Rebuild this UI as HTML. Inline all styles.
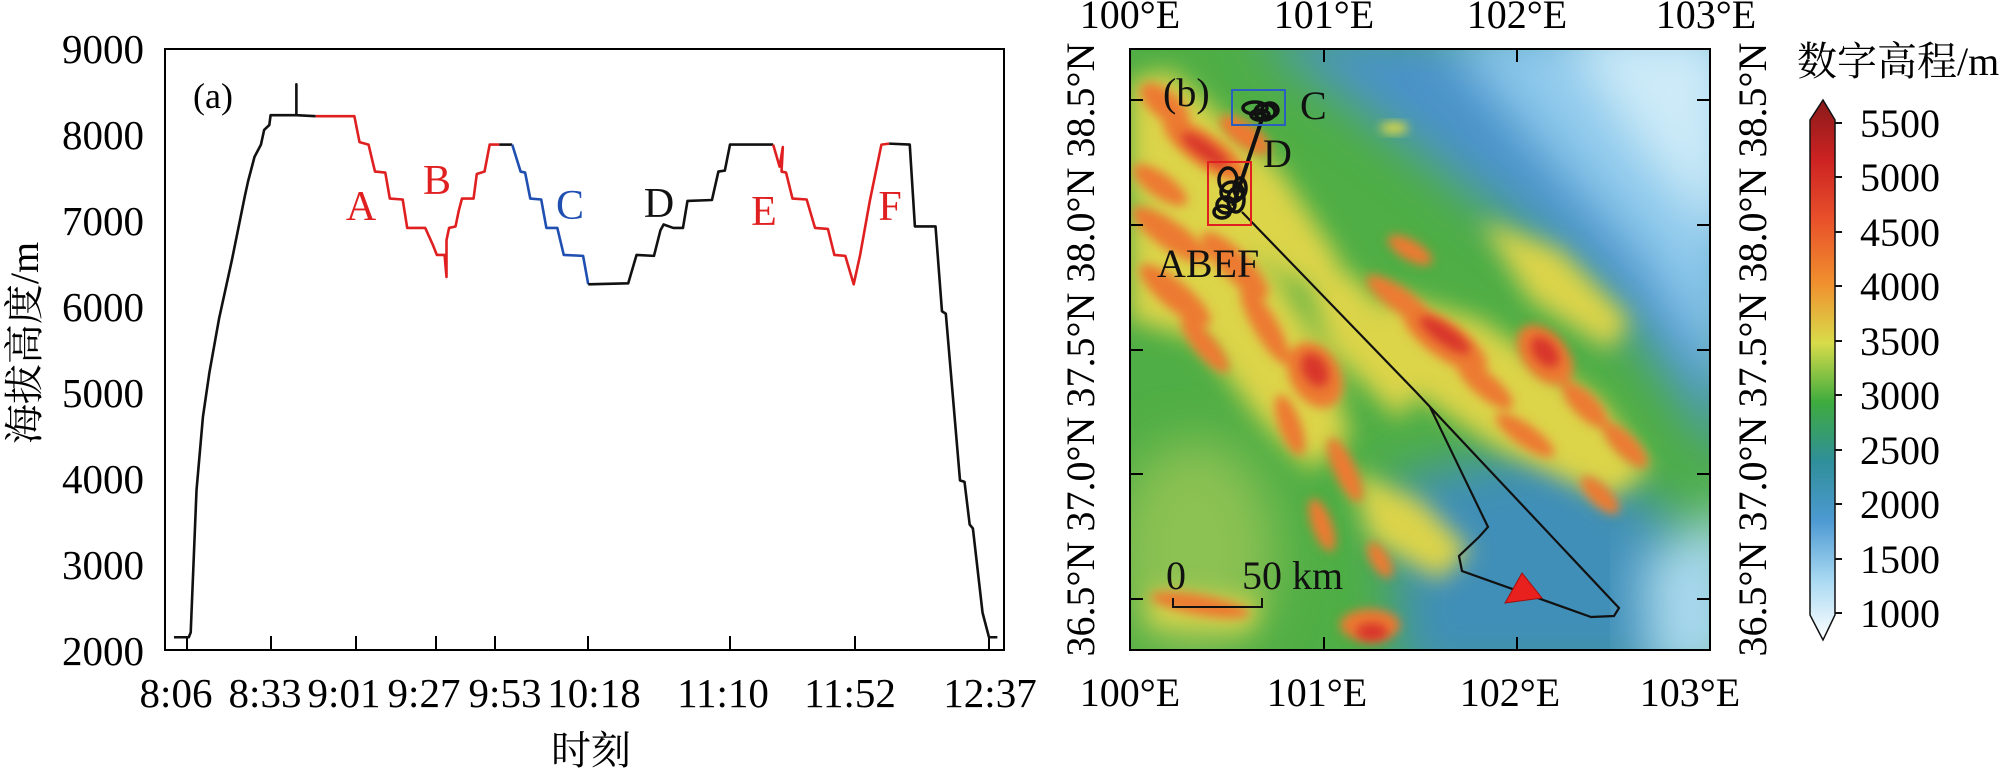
<!DOCTYPE html>
<html><head><meta charset="utf-8"><style>
html,body{margin:0;padding:0;background:#fff;}
svg{display:block;}
text{font-family:"Liberation Serif","Noto Serif CJK SC",serif;}
</style></head><body>
<svg width="2000" height="768" viewBox="0 0 2000 768" xmlns="http://www.w3.org/2000/svg">
<defs>
<filter id="b4" x="-30%" y="-30%" width="160%" height="160%"><feGaussianBlur stdDeviation="5"/></filter>
<filter id="b14" x="-30%" y="-30%" width="160%" height="160%"><feGaussianBlur stdDeviation="12"/></filter>
<filter id="b25" x="-30%" y="-30%" width="160%" height="160%"><feGaussianBlur stdDeviation="25"/></filter>
<clipPath id="mc"><rect x="1130" y="49" width="580" height="601"/></clipPath>
<linearGradient id="cb" x1="0" y1="1" x2="0" y2="0">
<stop offset="0" stop-color="#ffffff"/>
<stop offset="0.11" stop-color="#a9d9f2"/>
<stop offset="0.22" stop-color="#4d9ad2"/>
<stop offset="0.33" stop-color="#2f8f9a"/>
<stop offset="0.44" stop-color="#3eab3e"/>
<stop offset="0.55" stop-color="#d8dc4a"/>
<stop offset="0.66" stop-color="#f0902e"/>
<stop offset="0.78" stop-color="#e8502a"/>
<stop offset="0.89" stop-color="#cc2222"/>
<stop offset="1" stop-color="#8a1a1a"/>
</linearGradient>
</defs>

<!-- LEFT PANEL -->
<rect x="165" y="49" width="839" height="601" fill="none" stroke="#000" stroke-width="2"/>
<g font-size="41" text-anchor="end">
<text x="144" y="63">9000</text>
<text x="144" y="149">8000</text>
<text x="144" y="235">7000</text>
<text x="144" y="321">6000</text>
<text x="144" y="407">5000</text>
<text x="144" y="493">4000</text>
<text x="144" y="579">3000</text>
<text x="144" y="665">2000</text>
</g>
<g stroke="#000" stroke-width="2">
<line x1="187" y1="650" x2="187" y2="636"/><line x1="271" y1="650" x2="271" y2="636"/>
<line x1="356" y1="650" x2="356" y2="636"/><line x1="436" y1="650" x2="436" y2="636"/>
<line x1="495" y1="650" x2="495" y2="636"/><line x1="588" y1="650" x2="588" y2="636"/>
<line x1="730" y1="650" x2="730" y2="636"/><line x1="855" y1="650" x2="855" y2="636"/>
<line x1="989" y1="650" x2="989" y2="636"/>
</g>
<g font-size="41" text-anchor="middle">
<text x="176" y="707">8:06</text><text x="265" y="707">8:33</text>
<text x="344" y="707">9:01</text><text x="424" y="707">9:27</text>
<text x="505" y="707">9:53</text><text x="594" y="707">10:18</text>
<text x="723" y="707">11:10</text><text x="850" y="707">11:52</text>
<text x="990" y="707">12:37</text>
<text x="591" y="764" font-size="40">时刻</text>
</g>
<text transform="translate(38,343) rotate(-90)" font-size="40" text-anchor="middle">海拔高度/m</text>
<text x="193" y="108" font-size="36">(a)</text>

<g transform="scale(0.6443,0.4902)" fill="none" stroke-width="2.6" stroke-linejoin="round">
<polyline vector-effect="non-scaling-stroke" stroke="#111" points="270,1300 293,1300 296,1290 305,1000 315,850 325,760 340,650 360,530 380,400 385,370 395,320 405,295 410,265 418,255 420,235 460,235 460,172 460,235 490,237"/>
<polyline vector-effect="non-scaling-stroke" stroke="#e02020" points="490,237 550,237 558,290 572,295 582,350 598,352 605,405 625,407 632,465 660,465 672,500 678,520 690,520 693,565 693,490 697,465 707,462 712,430 717,405 735,405 740,355 752,350 760,295 775,295"/>
<polyline vector-effect="non-scaling-stroke" stroke="#111" points="775,295 795,295"/>
<polyline vector-effect="non-scaling-stroke" stroke="#1f4fb0" points="795,295 808,350 815,352 823,405 840,407 848,465 865,465 875,520 905,522 913,580"/>
<polyline vector-effect="non-scaling-stroke" stroke="#111" points="913,580 975,578 988,520 1015,522 1025,470 1030,458 1045,465 1060,465 1067,410 1105,408 1115,350 1125,348 1133,295 1200,295"/>
<polyline vector-effect="non-scaling-stroke" stroke="#e02020" points="1200,295 1210,340 1215,300 1213,350 1220,352 1230,405 1252,407 1265,465 1285,467 1295,520 1312,522 1325,580 1335,520 1350,410 1368,295 1380,293"/>
<polyline vector-effect="non-scaling-stroke" stroke="#111" points="1380,293 1412,295 1420,462 1452,462 1462,635 1468,640 1490,980 1497,983 1505,1070 1510,1078 1525,1250 1535,1300 1548,1300"/>
</g>
<g font-size="42" text-anchor="middle">
<text x="361" y="220" fill="#e02020">A</text>
<text x="437" y="194" fill="#e02020">B</text>
<text x="570" y="219" fill="#1f4fb0">C</text>
<text x="659" y="217" fill="#111">D</text>
<text x="764" y="225" fill="#e02020">E</text>
<text x="890" y="220" fill="#e02020">F</text>
</g>

<!-- MAP -->
<g clip-path="url(#mc)">
<rect x="1130" y="49" width="580" height="601" fill="#4fae45"/>
<polygon points="1250,30 1730,30 1730,470 1640,340 1520,230 1400,140" fill="#4a93c9" filter="url(#b25)"/>
<polygon points="1440,30 1730,30 1730,400 1640,260 1540,150" fill="#8ec9ec" filter="url(#b25)"/>
<polygon points="1560,30 1730,30 1730,250 1640,150" fill="#cdebf8" filter="url(#b25)"/>
<polygon points="1390,480 1560,440 1680,520 1700,680 1400,680" fill="#3f8fb8" filter="url(#b25)"/>
<polygon points="1640,560 1740,500 1740,680 1650,680" fill="#a9d8f0" filter="url(#b25)"/>
<ellipse cx="1195" cy="550" rx="80" ry="110" fill="#8cc152" filter="url(#b25)"/>
<!-- yellow zones -->
<g filter="url(#b14)" fill="#dcd44a">
<polygon points="1130,80 1170,70 1280,170 1340,260 1330,300 1260,260 1130,200"/>
<polygon points="1130,210 1200,220 1280,280 1330,360 1350,440 1310,470 1260,420 1200,340 1130,320"/>
<polygon points="1290,240 1360,280 1430,370 1400,420 1330,350"/>
<polygon points="1380,290 1480,320 1600,400 1650,470 1610,500 1500,450 1410,390"/>
<polygon points="1480,220 1560,250 1630,320 1610,350 1530,300"/>
<polygon points="1350,470 1420,500 1470,550 1440,580 1370,540"/>
<polygon points="1150,590 1260,600 1250,630 1150,625"/>
</g>
<!-- orange streaks -->
<g filter="url(#b4)" fill="#ec7a30">
<ellipse cx="1165" cy="105" rx="30" ry="14" transform="rotate(40 1165 105)"/>
<ellipse cx="1205" cy="150" rx="50" ry="16" transform="rotate(35 1205 150)"/>
<ellipse cx="1245" cy="135" rx="30" ry="12" transform="rotate(35 1245 135)"/>
<ellipse cx="1160" cy="185" rx="32" ry="12" transform="rotate(35 1160 185)"/>
<ellipse cx="1170" cy="235" rx="45" ry="14" transform="rotate(35 1170 235)"/>
<ellipse cx="1235" cy="265" rx="45" ry="14" transform="rotate(45 1235 265)"/>
<ellipse cx="1175" cy="295" rx="45" ry="14" transform="rotate(40 1175 295)"/>
<ellipse cx="1265" cy="325" rx="45" ry="12" transform="rotate(60 1265 325)"/>
<ellipse cx="1205" cy="345" rx="35" ry="11" transform="rotate(50 1205 345)"/>
<ellipse cx="1315" cy="375" rx="35" ry="25" transform="rotate(60 1315 375)"/>
<ellipse cx="1290" cy="425" rx="32" ry="11" transform="rotate(70 1290 425)"/>
<ellipse cx="1345" cy="470" rx="35" ry="11" transform="rotate(65 1345 470)"/>
<ellipse cx="1322" cy="525" rx="28" ry="10" transform="rotate(70 1322 525)"/>
<ellipse cx="1400" cy="300" rx="40" ry="12" transform="rotate(35 1400 300)"/>
<ellipse cx="1445" cy="340" rx="50" ry="18" transform="rotate(35 1445 340)"/>
<ellipse cx="1485" cy="385" rx="35" ry="12" transform="rotate(40 1485 385)"/>
<ellipse cx="1545" cy="355" rx="35" ry="22" transform="rotate(50 1545 355)"/>
<ellipse cx="1585" cy="405" rx="30" ry="12" transform="rotate(45 1585 405)"/>
<ellipse cx="1525" cy="435" rx="35" ry="11" transform="rotate(35 1525 435)"/>
<ellipse cx="1625" cy="445" rx="30" ry="11" transform="rotate(45 1625 445)"/>
<ellipse cx="1600" cy="495" rx="25" ry="10" transform="rotate(45 1600 495)"/>
<ellipse cx="1370" cy="625" rx="30" ry="16"/>
<ellipse cx="1200" cy="605" rx="50" ry="10" transform="rotate(10 1200 605)"/>
<ellipse cx="1410" cy="250" rx="25" ry="10" transform="rotate(30 1410 250)"/>
<ellipse cx="1380" cy="560" rx="20" ry="9" transform="rotate(60 1380 560)"/>
</g>
<g filter="url(#b4)" fill="#d8362a">
<ellipse cx="1205" cy="150" rx="28" ry="8" transform="rotate(35 1205 150)"/>
<ellipse cx="1445" cy="335" rx="30" ry="9" transform="rotate(35 1445 335)"/>
<ellipse cx="1545" cy="352" rx="18" ry="11" transform="rotate(50 1545 352)"/>
<ellipse cx="1315" cy="370" rx="18" ry="12" transform="rotate(60 1315 370)"/>
<ellipse cx="1372" cy="632" rx="16" ry="9"/>
</g>
<ellipse cx="1394" cy="128" rx="14" ry="6" fill="#d8d64a" filter="url(#b4)"/>
</g>
<rect x="1130" y="49" width="580" height="601" fill="none" stroke="#000" stroke-width="2"/>
<g stroke="#000" stroke-width="2">
<line x1="1324" y1="49" x2="1324" y2="62"/><line x1="1517" y1="49" x2="1517" y2="62"/>
<line x1="1324" y1="650" x2="1324" y2="637"/><line x1="1517" y1="650" x2="1517" y2="637"/>
<line x1="1130" y1="100" x2="1143" y2="100"/><line x1="1130" y1="225" x2="1143" y2="225"/>
<line x1="1130" y1="350" x2="1143" y2="350"/><line x1="1130" y1="474" x2="1143" y2="474"/>
<line x1="1130" y1="599" x2="1143" y2="599"/>
<line x1="1710" y1="100" x2="1697" y2="100"/><line x1="1710" y1="225" x2="1697" y2="225"/>
<line x1="1710" y1="350" x2="1697" y2="350"/><line x1="1710" y1="474" x2="1697" y2="474"/>
<line x1="1710" y1="599" x2="1697" y2="599"/>
</g>
<g font-size="40" text-anchor="middle">
<text x="1130" y="28">100°E</text><text x="1324" y="28">101°E</text>
<text x="1517" y="28">102°E</text><text x="1706" y="28">103°E</text>
<text x="1130" y="706">100°E</text><text x="1317" y="706">101°E</text>
<text x="1510" y="706">102°E</text><text x="1690" y="706">103°E</text>
</g>
<g font-size="40" text-anchor="middle">
<text transform="translate(1094,100) rotate(-90)">38.5°N</text>
<text transform="translate(1094,225) rotate(-90)">38.0°N</text>
<text transform="translate(1094,350) rotate(-90)">37.5°N</text>
<text transform="translate(1094,474) rotate(-90)">37.0°N</text>
<text transform="translate(1094,599) rotate(-90)">36.5°N</text>
<text transform="translate(1766,100) rotate(-90)">38.5°N</text>
<text transform="translate(1766,225) rotate(-90)">38.0°N</text>
<text transform="translate(1766,350) rotate(-90)">37.5°N</text>
<text transform="translate(1766,474) rotate(-90)">37.0°N</text>
<text transform="translate(1766,599) rotate(-90)">36.5°N</text>
</g>
<!-- track -->
<g fill="none" stroke="#111" stroke-width="2.2">
<polyline points="1242,212 1416,392 1619,608 1614,616 1591,617 1462,571 1459,556 1479,537 1488,527 1430,407"/>
<line x1="1233" y1="206" x2="1264" y2="113" stroke-width="4"/>
</g>
<g fill="none" stroke="#111" stroke-width="3.5">
<ellipse cx="1255" cy="108" rx="12" ry="6"/><ellipse cx="1265" cy="112" rx="10" ry="8"/>
<ellipse cx="1270" cy="110" rx="8" ry="7"/><ellipse cx="1260" cy="115" rx="9" ry="5"/>
<ellipse cx="1228" cy="180" rx="9" ry="12"/><ellipse cx="1232" cy="192" rx="11" ry="10"/>
<ellipse cx="1226" cy="205" rx="9" ry="8"/><ellipse cx="1236" cy="200" rx="8" ry="12"/>
<ellipse cx="1222" cy="212" rx="8" ry="6"/><ellipse cx="1240" cy="188" rx="6" ry="10"/>
</g>
<rect x="1232" y="90" width="53" height="35" fill="none" stroke="#2a5fc0" stroke-width="2"/>
<rect x="1208" y="162" width="43" height="63" fill="none" stroke="#e02020" stroke-width="2"/>
<polygon points="1522,573 1505,603 1542,598" fill="#e8201e" stroke="#a01010" stroke-width="1"/>
<g font-size="40" fill="#111">
<text x="1163" y="106">(b)</text>
<text x="1300" y="119">C</text>
<text x="1263" y="167">D</text>
<text x="1157" y="277">ABEF</text>
<text x="1166" y="589">0</text>
<text x="1242" y="589">50 km</text>
</g>
<polyline points="1173,598 1173,607 1262,607 1262,598" fill="none" stroke="#111" stroke-width="2"/>

<!-- COLORBAR -->
<text x="1797" y="75" font-size="40">数字高程/m</text>
<polygon points="1823,100 1835,120 1835,615 1823,640 1810,615 1810,120" fill="url(#cb)" stroke="#111" stroke-width="1.5"/>
<g stroke="#111" stroke-width="2">
<line x1="1835" y1="123" x2="1842" y2="123"/><line x1="1835" y1="177" x2="1842" y2="177"/>
<line x1="1835" y1="232" x2="1842" y2="232"/><line x1="1835" y1="286" x2="1842" y2="286"/>
<line x1="1835" y1="341" x2="1842" y2="341"/><line x1="1835" y1="395" x2="1842" y2="395"/>
<line x1="1835" y1="450" x2="1842" y2="450"/><line x1="1835" y1="504" x2="1842" y2="504"/>
<line x1="1835" y1="559" x2="1842" y2="559"/><line x1="1835" y1="613" x2="1842" y2="613"/>
</g>
<g font-size="40">
<text x="1860" y="137">5500</text><text x="1860" y="191">5000</text>
<text x="1860" y="246">4500</text><text x="1860" y="300">4000</text>
<text x="1860" y="355">3500</text><text x="1860" y="409">3000</text>
<text x="1860" y="464">2500</text><text x="1860" y="518">2000</text>
<text x="1860" y="573">1500</text><text x="1860" y="627">1000</text>
</g>
</svg>
</body></html>
